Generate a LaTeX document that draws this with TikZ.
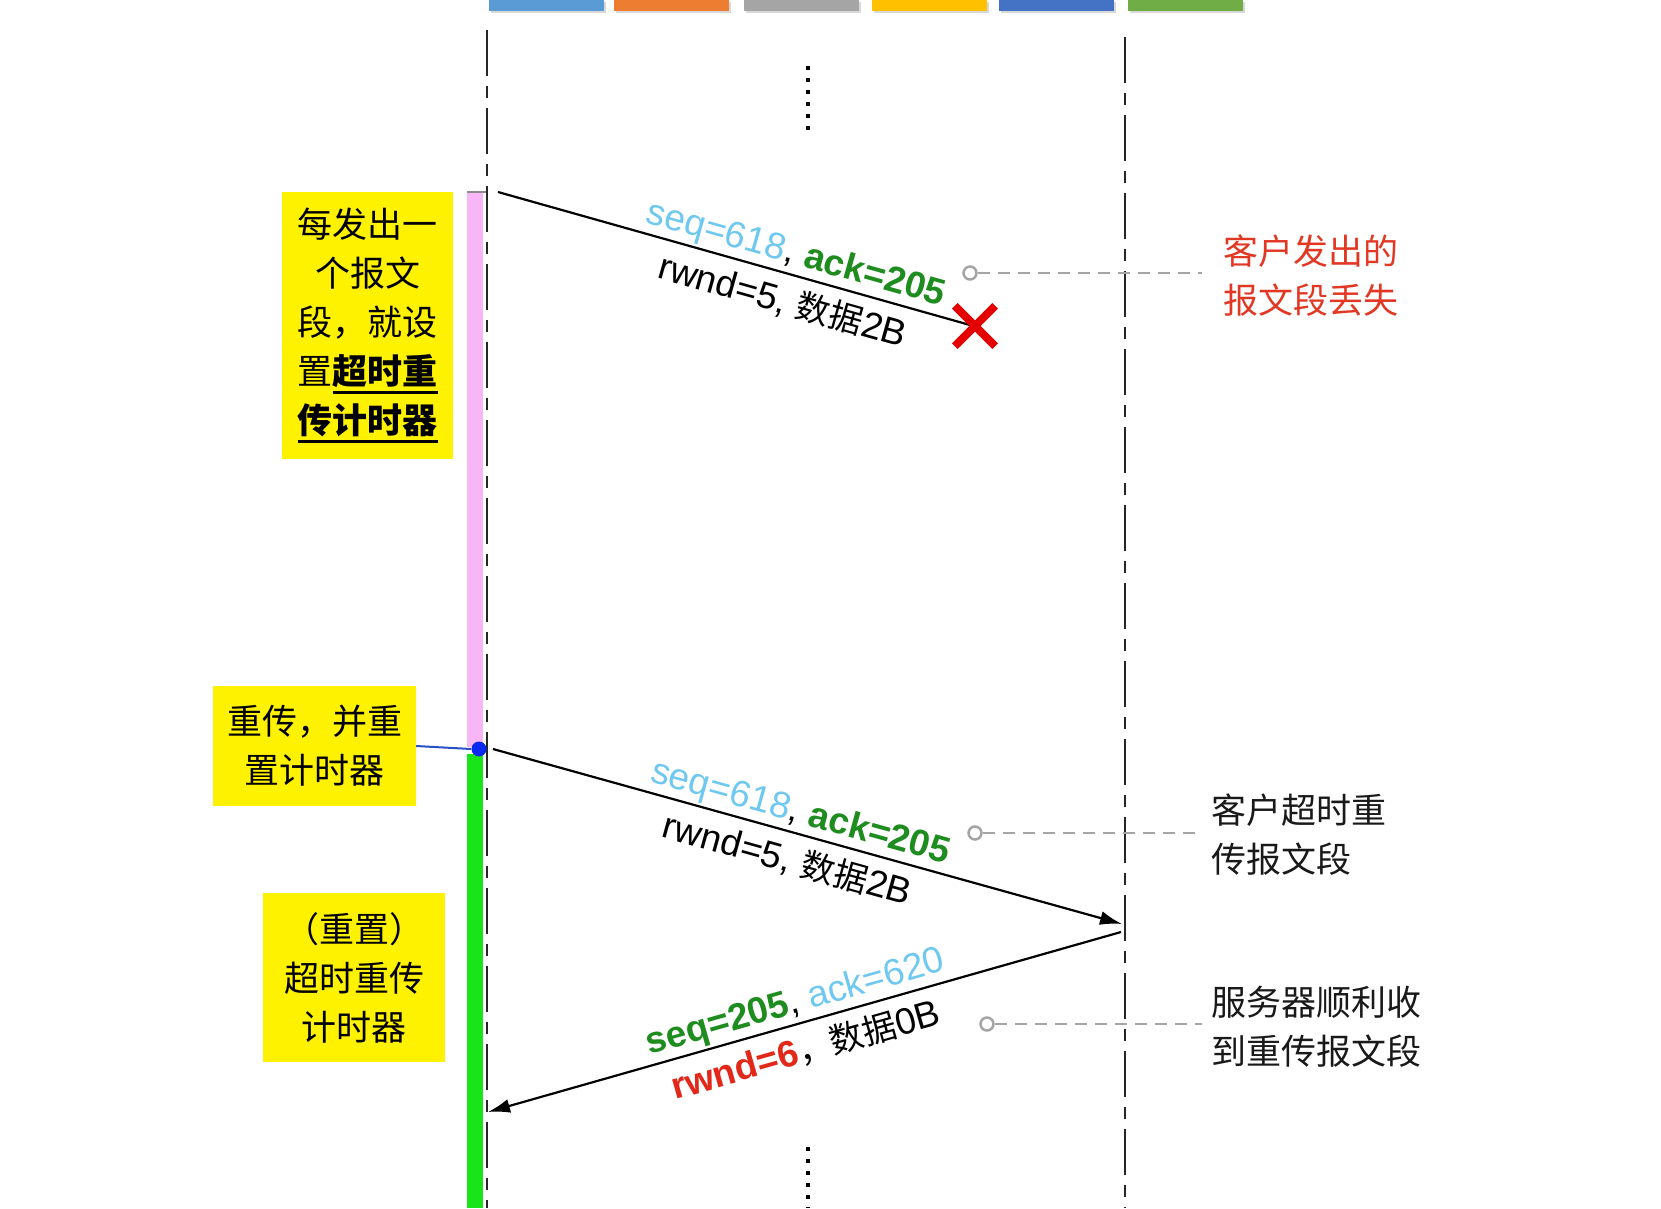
\documentclass[tikz,border=0pt]{standalone}
\usepackage{fontspec}
\setmainfont{Liberation Sans}
\newfontfamily\cjk{Noto Sans CJK SC}
\usetikzlibrary{arrows.meta}
\definecolor{barA}{RGB}{91,155,213}
\definecolor{barB}{RGB}{237,125,49}
\definecolor{barC}{RGB}{165,165,165}
\definecolor{barD}{RGB}{255,192,0}
\definecolor{barE}{RGB}{68,114,196}
\definecolor{barF}{RGB}{112,173,71}
\definecolor{seqblue}{RGB}{110,200,240}
\definecolor{ackgreen}{RGB}{30,140,30}
\definecolor{rwred}{RGB}{225,40,25}
\definecolor{notered}{RGB}{225,55,35}
\definecolor{pinkbar}{RGB}{248,182,246}
\definecolor{greenbar}{RGB}{25,228,25}
\definecolor{dotblue}{RGB}{10,40,240}
\definecolor{linkblue}{RGB}{40,80,200}
\definecolor{guide}{RGB}{165,165,165}
\newsavebox\ulbox
\newcommand{\ulb}[1]{\sbox\ulbox{\bfseries #1}\rlap{\rule[-10pt]{\wd\ulbox}{3pt}}\usebox\ulbox}
\newcommand{\zhs}[1]{{\cjk\fontsize{34}{40}\selectfont #1}}
\tikzset{
  lifeline/.style={line width=2.5pt, black!85, dash pattern=on 46pt off 10pt on 12pt off 10pt},
  msg/.style={line width=2.2pt, black},
  tipped/.style={msg, -{Latex[length=22pt,width=14pt]}},
  ybox/.style={fill=yellow, inner sep=0pt, align=center, font=\cjk\fontsize{35}{49}\selectfont},
  note/.style={anchor=west, inner sep=0pt, align=left, font=\cjk\fontsize{35}{49}\selectfont},
  guideline/.style={guide, line width=2.5pt, dash pattern=on 12pt off 8pt},
  guidedot/.style={circle, draw=guide, line width=2.5pt, fill=white, minimum size=13pt, inner sep=0pt},
  lbl/.style={sloped, inner sep=2pt, font=\fontsize{37}{44}\selectfont},
  lblup/.style={lbl, anchor=south},
  lbldown/.style={lbl, anchor=north, inner ysep=10pt},
  vdots/.style={line width=4pt, dash pattern=on 4pt off 8pt, black},
  topbar/.style={inner sep=0pt, minimum width=115pt, minimum height=11pt, anchor=north west}
}
\begin{document}
\begin{tikzpicture}[x=1pt,y=-1pt]
\useasboundingbox (0,0) rectangle (1661,1208);
% top colour bars
\foreach \c/\x in {barA/489,barB/614,barC/744,barD/872,barE/999,barF/1128}{
  \fill[black!30, opacity=.5] (\x+2,2) rectangle ++(115,11);
  \node[topbar, fill=\c] at (\x,0) {};
}
% lifelines
\coordinate (Ltop) at (487,30);
\coordinate (Lbot) at (487,1208);
\coordinate (Rtop) at (1125,37);
\coordinate (Rbot) at (1125,1208);
% timer bars
\fill[pinkbar] (467,192) rectangle (483,747);
\fill[greenbar] (467,754) rectangle (483,1208);
\draw[black!45, line width=2pt] (467,192) -- (487,192);
\draw[lifeline] (Ltop) -- (Lbot);
\draw[lifeline] (Rtop) -- (Rbot);
% vertical dots
\coordinate (D1a) at (808,66);
\coordinate (D1b) at (808,134);
\coordinate (D2a) at (808,1147);
\coordinate (D2b) at (808,1208);
\draw[vdots] (D1a) -- (D1b);
\draw[vdots] (D2a) -- (D2b);
% yellow boxes
\node[ybox, minimum width=171pt, minimum height=267pt] (b1) at (367.5,325.5)
  {每发出一\\个报文\\段，就设\\置\ulb{超时重}\\\ulb{传计时器}};
\node[ybox, minimum width=203pt, minimum height=120pt] (b2) at (314.5,746)
  {重传，并重\\置计时器};
\node[ybox, minimum width=182pt, minimum height=169pt] (b3) at (354,977.5)
  {（重置）\\超时重传\\计时器};
% message 1 (lost)
\coordinate (m1s) at (498,192);
\coordinate (m1e) at (977,327);
\draw[msg] (m1s) -- (m1e)
  node[lblup, pos=.61] {\textcolor{seqblue}{seq=618}, \textcolor{ackgreen}{\bfseries ack=205}}
  node[lbldown, pos=.61] {rwnd=5, \zhs{数据}2B};
\node[inner sep=0pt, minimum size=40pt] (X) at (975,326) {};
\draw[red!90!black, line width=8pt] (X.north west) -- (X.south east);
\draw[red!90!black, line width=8pt] (X.north east) -- (X.south west);
% blue dot and link to box 2
\node[circle, fill=dotblue, inner sep=0pt, minimum size=15pt] (dot) at (479,749) {};
\draw[linkblue, line width=2pt] (b2.east) -- (dot.west);
% message 2 (retransmission)
\coordinate (m2s) at (493,749);
\coordinate (m2e) at (1122,924);
\draw[tipped] (m2s) -- (m2e)
  node[lblup, pos=.48] {\textcolor{seqblue}{seq=618}, \textcolor{ackgreen}{\bfseries ack=205}}
  node[lbldown, pos=.48] {rwnd=5, \zhs{数据}2B};
% message 3 (ack)
\coordinate (m3s) at (1121,932);
\coordinate (m3e) at (488,1112);
\draw[tipped] (m3s) -- (m3e)
  node[lblup, pos=.505] {\textcolor{ackgreen}{\bfseries seq=205}, \textcolor{seqblue}{ack=620}}
  node[lbldown, pos=.51] {\textcolor{rwred}{\bfseries rwnd=6}\zhs{，数据}0B};
% notes
\node[note, text=notered] (n1) at (1223,275.5) {客户发出的\\报文段丢失};
\node[note, text=black!90] (n2) at (1211,834.5) {客户超时重\\传报文段};
\node[note, text=black!90] (n3) at (1211,1026.5) {服务器顺利收\\到重传报文段};
\node[guidedot] (g1) at (970,273) {};
\node[guidedot] (g2) at (975,833) {};
\node[guidedot] (g3) at (987,1024) {};
\coordinate (e1) at (1202,273);
\coordinate (e2) at (1202,833);
\coordinate (e3) at (1202,1024);
\draw[guideline] (g1.east) -- (e1);
\draw[guideline] (g2.east) -- (e2);
\draw[guideline] (g3.east) -- (e3);
\end{tikzpicture}
\end{document}
